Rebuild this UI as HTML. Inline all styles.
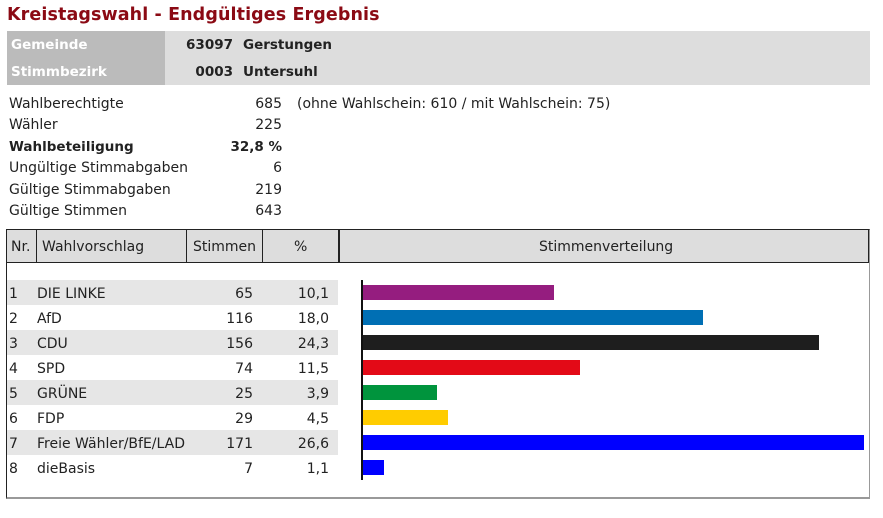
<!DOCTYPE html>
<html><head><meta charset="utf-8"><style>
body{margin:0;width:883px;height:518px;background:#fff;font-family:"DejaVu Sans","Liberation Sans",sans-serif;font-size:14px;color:#222;position:relative;overflow:hidden}
div{position:absolute;white-space:nowrap}
.r{text-align:right}
.t{font-size:17.5px;font-weight:bold;color:#8b0a14;left:7px;top:5px;letter-spacing:0.1px}
.b{font-weight:bold;font-size:13.5px}
.bar{height:15px}
</style></head><body>
<div class="t">Kreistagswahl - Endgültiges Ergebnis</div>
<div style="left:7px;top:31px;width:158px;height:54px;background:#bbb"></div>
<div style="left:165px;top:31px;width:705px;height:54px;background:#ddd"></div>
<div class="b" style="left:11px;top:37px;color:#fff">Gemeinde</div>
<div class="b" style="left:11px;top:64px;color:#fff">Stimmbezirk</div>
<div class="b r" style="right:650px;top:37px">63097</div>
<div class="b" style="left:243px;top:37px">Gerstungen</div>
<div class="b r" style="right:650px;top:64px">0003</div>
<div class="b" style="left:243px;top:64px">Untersuhl</div>

<div style="left:9px;top:96px">Wahlberechtigte</div><div class="r" style="right:601px;top:96px">685</div>
<div style="left:297px;top:96px">(ohne Wahlschein: 610 / mit Wahlschein: 75)</div>
<div style="left:9px;top:117px">Wähler</div><div class="r" style="right:601px;top:117px">225</div>
<div class="b" style="left:9px;top:139px">Wahlbeteiligung</div><div class="b r" style="right:601px;top:139px">32,8 %</div>
<div style="left:9px;top:160px">Ungültige Stimmabgaben</div><div class="r" style="right:601px;top:160px">6</div>
<div style="left:9px;top:182px">Gültige Stimmabgaben</div><div class="r" style="right:601px;top:182px">219</div>
<div style="left:9px;top:203px">Gültige Stimmen</div><div class="r" style="right:601px;top:203px">643</div>

<div style="left:6px;top:229px;width:862px;height:267px;border:1px solid #222;border-right:1px solid #999;border-bottom:2px solid #999"></div>
<div style="left:7px;top:230px;width:862px;height:32px;background:#ddd;border-bottom:1px solid #222"></div>
<div style="left:868px;top:230px;width:1px;height:33px;background:#222"></div>
<div style="left:36px;top:230px;width:1px;height:32px;background:#222"></div>
<div style="left:186px;top:230px;width:1px;height:32px;background:#222"></div>
<div style="left:262px;top:230px;width:1px;height:32px;background:#222"></div>
<div style="left:338px;top:230px;width:2px;height:32px;background:#222"></div>
<div style="left:11px;top:239px">Nr.</div>
<div style="left:42px;top:239px">Wahlvorschlag</div>
<div style="left:193px;top:239px">Stimmen</div>
<div style="left:294px;top:239px">%</div>
<div style="left:539px;top:239px">Stimmenverteilung</div>

<div style="left:7px;top:280px;width:331px;height:25px;background:#e6e6e6"></div>
<div style="left:7px;top:330px;width:331px;height:25px;background:#e6e6e6"></div>
<div style="left:7px;top:380px;width:331px;height:25px;background:#e6e6e6"></div>
<div style="left:7px;top:430px;width:331px;height:25px;background:#e6e6e6"></div>

<div style="left:9px;top:286px">1</div><div style="left:37px;top:286px">DIE LINKE</div><div class="r" style="right:630px;top:286px">65</div><div class="r" style="right:554px;top:286px">10,1</div>
<div style="left:9px;top:311px">2</div><div style="left:37px;top:311px">AfD</div><div class="r" style="right:630px;top:311px">116</div><div class="r" style="right:554px;top:311px">18,0</div>
<div style="left:9px;top:336px">3</div><div style="left:37px;top:336px">CDU</div><div class="r" style="right:630px;top:336px">156</div><div class="r" style="right:554px;top:336px">24,3</div>
<div style="left:9px;top:361px">4</div><div style="left:37px;top:361px">SPD</div><div class="r" style="right:630px;top:361px">74</div><div class="r" style="right:554px;top:361px">11,5</div>
<div style="left:9px;top:386px">5</div><div style="left:37px;top:386px">GRÜNE</div><div class="r" style="right:630px;top:386px">25</div><div class="r" style="right:554px;top:386px">3,9</div>
<div style="left:9px;top:411px">6</div><div style="left:37px;top:411px">FDP</div><div class="r" style="right:630px;top:411px">29</div><div class="r" style="right:554px;top:411px">4,5</div>
<div style="left:9px;top:436px">7</div><div style="left:37px;top:436px">Freie Wähler/BfE/LAD</div><div class="r" style="right:630px;top:436px">171</div><div class="r" style="right:554px;top:436px">26,6</div>
<div style="left:9px;top:461px">8</div><div style="left:37px;top:461px">dieBasis</div><div class="r" style="right:630px;top:461px">7</div><div class="r" style="right:554px;top:461px">1,1</div>

<div style="left:361px;top:280px;width:2px;height:200px;background:#111"></div>
<div class="bar" style="left:363px;top:285px;width:191px;background:#951d7f"></div>
<div class="bar" style="left:363px;top:310px;width:340px;background:#006fb4"></div>
<div class="bar" style="left:363px;top:335px;width:456px;background:#1e1e1e"></div>
<div class="bar" style="left:363px;top:360px;width:217px;background:#e30a17"></div>
<div class="bar" style="left:363px;top:385px;width:74px;background:#00943d"></div>
<div class="bar" style="left:363px;top:410px;width:85px;background:#ffcc00"></div>
<div class="bar" style="left:363px;top:435px;width:501px;background:#0000ff"></div>
<div class="bar" style="left:363px;top:460px;width:21px;background:#0000ff"></div>
</body></html>
